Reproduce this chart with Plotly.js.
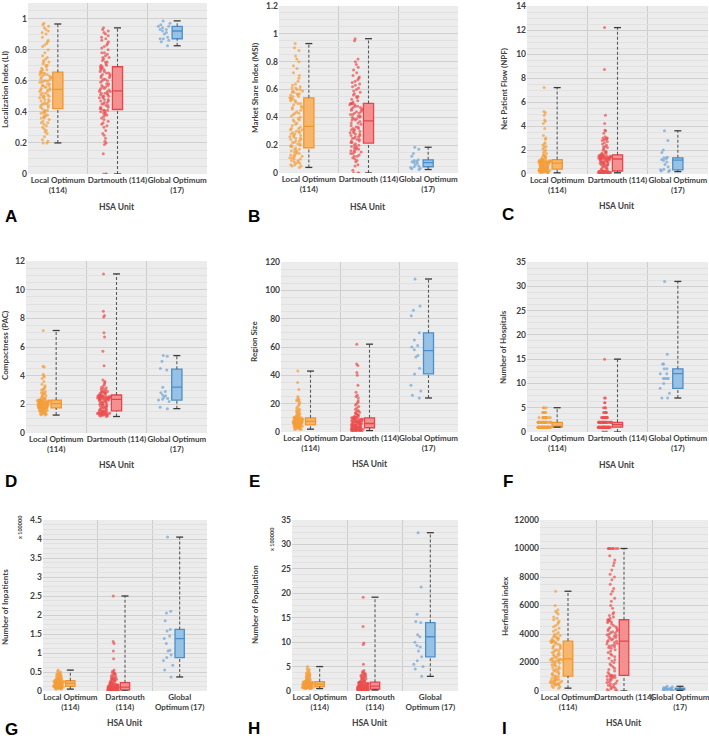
<!DOCTYPE html>
<html>
<head>
<meta charset="utf-8">
<script src="https://cdn.plot.ly/plotly-3.0.1.min.js"></script>
<style>html,body{margin:0;padding:0;background:#fff}#chart{width:709px;height:739px}</style>
</head>
<body>
<div id="chart"></div>
<script>
// ---------- categories / tick labels ----------
const groupNames = ['Local Optimum', 'Dartmouth', 'Global Optimum'];
const ticksTwoLine = ['Local Optimum<br>(114)', 'Dartmouth (114)', 'Global Optimum<br>(17)'];
const ticksThreeLine = ['Local Optimum<br>(114)', 'Dartmouth<br>(114)', 'Global<br>Optimum (17)'];
const ticksI = ['Local Optimum<br>(114)', 'Dartmouth (114)', 'Global Optimum<br>(17)'];

// ---------- A: Localization Index ----------
const liLocal = [0.2,0.21,0.2,0.22,0.24,0.26,0.27,0.28,0.29,0.3,0.31,0.32,0.33,0.33,0.34,0.35,0.36,0.36,0.37,0.37,0.38,0.38,0.39,0.39,0.4,0.4,0.41,0.41,0.42,
0.43,0.43,0.44,0.44,0.45,0.45,0.45,0.46,0.46,0.47,0.47,0.48,0.48,0.49,0.49,0.5,0.5,0.5,0.51,0.51,0.52,0.52,0.53,0.53,0.54,0.54,0.54,0.55,
0.55,0.56,0.56,0.57,0.57,0.57,0.58,0.58,0.59,0.59,0.6,0.6,0.6,0.61,0.61,0.62,0.62,0.62,0.63,0.63,0.64,0.64,0.64,0.65,0.65,0.65,0.66,0.66,
0.67,0.67,0.68,0.69,0.7,0.7,0.71,0.72,0.72,0.73,0.74,0.75,0.76,0.78,0.8,0.82,0.83,0.84,0.85,0.86,0.88,0.9,0.91,0.92,0.93,0.94,0.95,0.96,0.97];
const liDart = [0,0,0,0.13,0.19,0.2,0.21,0.23,0.25,0.26,0.28,0.3,0.31,0.32,0.33,0.34,0.35,0.36,0.37,0.38,0.38,0.39,0.39,0.4,0.4,0.41,0.41,0.41,
0.42,0.42,0.43,0.43,0.44,0.44,0.45,0.45,0.46,0.46,0.47,0.47,0.48,0.48,0.49,0.49,0.5,0.5,0.5,0.51,0.51,0.52,0.52,0.52,0.53,0.53,0.53,0.54,0.54,
0.55,0.55,0.56,0.56,0.57,0.57,0.58,0.58,0.59,0.6,0.6,0.61,0.61,0.62,0.62,0.63,0.63,0.64,0.64,0.65,0.65,0.66,0.66,0.67,0.67,0.68,0.68,0.69,
0.69,0.7,0.7,0.71,0.72,0.72,0.73,0.74,0.75,0.75,0.76,0.77,0.78,0.78,0.8,0.81,0.82,0.83,0.84,0.85,0.86,0.87,0.88,0.89,0.9,0.91,0.92,0.93,0.94];
const liGlobal = [0.825,0.85,0.86,0.87,0.87,0.88,0.9,0.91,0.92,0.93,0.93,0.94,0.95,0.95,0.96,0.97,0.985];
const liMin = [0.2, 0, 0.825];
const liQ1 = [0.42, 0.415, 0.87];
const liMed = [0.545, 0.535, 0.92];
const liQ3 = [0.655, 0.69, 0.95];
const liMax = [0.965, 0.94, 0.985];

// ---------- B: Market Share Index ----------
const msiLocal = [.04,.05,.05,.06,.06,.07,.07,.08,.08,.09,.09,.1,.1,.11,.11,.12,.12,.13,.13,.14,.14,.15,.15,.16,.16,.17,.17,.18,
.19,.19,.2,.2,.21,.21,.22,.22,.23,.23,.24,.24,.25,.25,.26,.26,.27,.27,.28,.28,.29,.29,.3,.3,.31,.31,.32,.32,.33,
.34,.35,.36,.37,.38,.38,.39,.4,.41,.42,.43,.43,.44,.45,.46,.47,.47,.48,.49,.5,.5,.51,.52,.52,.53,.53,.54,.54,
.55,.55,.56,.56,.57,.57,.58,.58,.59,.59,.6,.6,.61,.61,.62,.63,.64,.66,.68,.7,.72,.75,.77,.8,.82,.84,.88,.9,.93];
const msiDart = [0,0,0,.02,.05,.06,.08,.09,.1,.11,.12,.12,.13,.14,.14,.15,.15,.16,.16,.17,.17,.18,.18,.19,.19,.2,.2,.21,
.22,.22,.23,.23,.24,.24,.25,.25,.26,.26,.27,.27,.28,.28,.29,.29,.3,.3,.31,.31,.32,.32,.33,.33,.34,.35,.36,.36,.37,
.38,.38,.39,.39,.4,.4,.41,.41,.42,.42,.43,.43,.44,.44,.45,.45,.46,.46,.47,.47,.48,.48,.49,.49,.5,.5,.5,.5,
.51,.52,.53,.54,.55,.55,.56,.57,.58,.59,.6,.61,.62,.63,.64,.65,.66,.67,.68,.69,.7,.72,.74,.76,.78,.8,.82,.95,.965];
const msiGlobal = [.025,.03,.035,.04,.045,.05,.06,.07,.075,.08,.085,.09,.095,.12,.14,.17,.185];
const msiMin = [0.04, 0, 0.025];
const msiQ1 = [0.18, 0.215, 0.045];
const msiMed = [0.335, 0.375, 0.075];
const msiQ3 = [0.54, 0.5, 0.095];
const msiMax = [0.93, 0.965, 0.185];

// ---------- C: Net Patient Flow ----------
const npfLocal = [.1,.1,.12,.14,.15,.16,.18,.2,.2,.22,.24,.25,.26,.28,.29,.3,.3,.31,.32,.33,.34,.35,.35,.36,.37,.38,.39,.4,
.42,.44,.45,.47,.48,.5,.52,.53,.55,.56,.58,.6,.62,.63,.65,.67,.68,.7,.72,.74,.75,.77,.78,.8,.82,.84,.86,.88,.9,
.91,.92,.93,.94,.95,.96,.97,.98,.99,1,1.01,1.02,1.03,1.04,1.05,1.06,1.07,1.08,1.09,1.1,1.11,1.12,1.13,1.14,1.15,1.16,1.18,1.2,
1.25,1.3,1.35,1.4,1.45,1.5,1.55,1.6,1.7,1.8,1.9,2,2.1,2.2,2.3,2.4,2.5,2.6,2.9,3,3.2,3.8,4.2,4.4,4.5,4.9,5.1,5.2,7.2];
const npfDart = [.05,.06,.07,.08,.09,.1,.1,.11,.12,.12,.13,.14,.14,.15,.16,.16,.17,.18,.18,.19,.2,.2,.21,.22,.22,.23,.24,.25,
.3,.35,.4,.45,.5,.55,.6,.65,.7,.72,.75,.8,.82,.85,.88,.9,.92,.95,.98,1,1.02,1.05,1.08,1.1,1.13,1.16,1.19,1.22,1.25,
1.26,1.27,1.28,1.29,1.3,1.31,1.32,1.33,1.34,1.35,1.36,1.37,1.38,1.4,1.41,1.42,1.43,1.45,1.46,1.47,1.49,1.5,1.52,1.53,1.55,1.56,1.58,1.6,
1.65,1.7,1.75,1.8,1.85,1.9,2,2.1,2.2,2.25,2.3,2.4,2.5,2.6,2.7,2.8,2.85,2.9,2.95,3,3,3.1,3.4,3.6,3.65,4.2,4.9,8.7,12.2];
const npfGlobal = [.2,.25,.3,.35,.4,.6,.8,1,1.15,1.2,1.3,1.35,1.4,1.8,2,2.8,3.6];
const npfMin = [0.1, 0.1, 0.2];
const npfQ1 = [0.4, 0.25, 0.35];
const npfMed = [0.9, 1.25, 1.15];
const npfQ3 = [1.2, 1.6, 1.35];
const npfMax = [7.2, 12.2, 3.6];

// ---------- D: Compactness ----------
const pacLocal = [1.25,1.28,1.3,1.32,1.35,1.38,1.4,1.42,1.44,1.46,1.48,1.5,1.52,1.54,1.56,1.58,1.6,1.62,1.63,1.65,1.66,1.68,1.69,1.7,1.71,1.72,1.73,1.75,
1.76,1.77,1.78,1.79,1.8,1.81,1.82,1.83,1.84,1.85,1.86,1.87,1.88,1.89,1.9,1.91,1.92,1.93,1.94,1.95,1.96,1.97,1.98,1.99,2,2.01,2.02,2.03,2.05,
2.06,2.07,2.08,2.09,2.1,2.11,2.12,2.13,2.14,2.15,2.16,2.17,2.18,2.19,2.2,2.21,2.22,2.23,2.24,2.25,2.25,2.26,2.27,2.27,2.28,2.28,2.29,2.3,
2.32,2.35,2.38,2.4,2.42,2.45,2.5,2.55,2.6,2.65,2.7,2.75,2.8,2.85,2.9,3,3.05,3.1,3.2,3.3,3.4,3.6,3.8,3.9,4,4.1,4.6,4.65,7.15];
const pacDart = [1.15,1.18,1.2,1.22,1.24,1.26,1.28,1.3,1.31,1.32,1.33,1.34,1.35,1.36,1.37,1.38,1.39,1.4,1.42,1.43,1.44,1.46,1.47,1.48,1.5,1.52,1.53,1.55,
1.58,1.6,1.63,1.66,1.69,1.72,1.75,1.78,1.8,1.83,1.86,1.89,1.92,1.95,1.98,2,2.03,2.06,2.09,2.12,2.15,2.18,2.2,2.23,2.25,2.28,2.3,2.32,2.35,
2.36,2.37,2.38,2.39,2.4,2.41,2.42,2.43,2.44,2.45,2.46,2.47,2.48,2.49,2.5,2.51,2.52,2.53,2.54,2.55,2.56,2.57,2.58,2.59,2.6,2.62,2.63,2.65,
2.7,2.72,2.75,2.78,2.8,2.82,2.85,2.88,2.9,2.92,2.95,3,3.05,3.1,3.15,3.2,3.3,3.4,3.5,3.6,3.7,4.7,5.7,6.7,7,8.1,8.2,8.5,11.1];
const pacGlobal = [1.7,1.8,2.2,2.3,2.35,2.4,2.5,2.6,2.65,2.8,2.9,3.2,4.4,4.5,5,5.35,5.4];
const pacMin = [1.25, 1.15, 1.7];
const pacQ1 = [1.75, 1.55, 2.3];
const pacMed = [2.05, 2.35, 3.2];
const pacQ3 = [2.3, 2.65, 4.45];
const pacMax = [7.15, 11.1, 5.4];

// ---------- E: Region Size ----------
const sizeLocal = [2,2,2,2,3,3,3,3,3,3,4,4,4,4,4,4,4,4,5,5,5,5,5,5,5,5,5,5,
6,6,6,6,6,6,6,6,6,6,6,6,6,6,7,7,7,7,7,7,7,7,7,7,7,7,7,7,7,
8,8,8,8,8,8,8,8,8,8,9,9,9,9,9,9,9,9,9,10,10,10,10,10,10,10,10,10,
11,11,11,11,12,12,12,13,13,14,14,15,15,16,16,17,18,19,20,21,22,22,23,23,24,25,30,35,43];
const sizeDart = [1,1,1,1,1,1,1,1,1,1,2,2,2,2,2,2,2,2,2,2,2,2,3,3,3,3,3,3,
3,3,3,3,3,3,4,4,4,4,4,4,4,4,5,5,5,5,5,5,5,5,6,6,6,6,6,6,6,
7,7,7,7,7,7,7,8,8,8,8,8,8,8,9,9,9,9,9,9,9,10,10,10,10,10,10,10,
11,11,11,12,12,12,13,13,14,14,15,15,16,17,18,19,20,21,22,24,25,26,28,33,40,42,47,48,62];
const sizeGlobal = [24,26,29,33,41,45,53,54,58,60,61,65,70,82,86,89,108];
const sizeMin = [2, 1, 24];
const sizeQ1 = [5, 3, 41];
const sizeMed = [7.5, 6, 57.5];
const sizeQ3 = [10, 10, 70];
const sizeMax = [43, 62, 108];

// ---------- F: Number of Hospitals ----------
const hospLocal = [1,1,1,1,1,1,1,1,1,1,1,1,1,1,1,1,1,1,1,1,1,1,1,1,1,1,1,1,1,1,
1,1,1,1,1,1,1,1,1,1,1,1,1,1,1,1,1,1,1,1,1,1,1,1,1,1,1,1,1,1,
2,2,2,2,2,2,2,2,2,2,2,2,2,2,2,2,2,2,2,2,2,2,2,2,2,2,2,2,2,2,
3,3,3,3,3,3,3,3,3,3,3,3,3,3,3,4,4,4,4,4,4,5,5,5];
const hospDart = [0,0,0,0,1,1,1,1,1,1,1,1,1,1,1,1,1,1,1,1,1,1,1,1,1,1,1,1,1,1,
1,1,1,1,1,1,1,1,1,1,1,1,1,1,1,1,1,1,1,1,1,1,1,1,1,1,1,
2,2,2,2,2,2,2,2,2,2,2,2,2,2,2,2,2,2,2,2,2,2,2,2,2,2,2,2,2,2,2,2,
3,3,3,3,3,3,3,3,3,3,3,3,4,4,4,4,4,5,5,5,6,6,7,7,15];
const hospGlobal = [7,7,8,9,10,11,11,11,11,12,12,13,13,14,14,16,31];
const hospMin = [1, 0, 7];
const hospQ1 = [1, 1, 9];
const hospMed = [1, 1.5, 12];
const hospQ3 = [2, 2, 13];
const hospMax = [5, 15, 31];

// ---------- G: Number of Inpatients (x 100000) ----------
const inpLocal = [.05,.05,.06,.06,.07,.07,.07,.08,.08,.08,.09,.09,.09,.1,.1,.1,.1,.11,.11,.11,.11,.11,.12,.12,.12,.12,.12,.12,
.13,.13,.13,.13,.13,.13,.13,.14,.14,.14,.14,.15,.15,.15,.15,.16,.16,.16,.16,.17,.17,.17,.18,.18,.18,.19,.19,.2,.2,
.21,.21,.21,.21,.22,.22,.22,.22,.23,.23,.23,.23,.24,.24,.24,.24,.25,.25,.25,.25,.26,.26,.26,.26,.27,.27,.27,.27,
.28,.28,.29,.29,.3,.3,.31,.31,.32,.32,.33,.33,.34,.35,.36,.37,.38,.39,.4,.41,.42,.43,.44,.45,.46,.48,.5,.52,.55];
const inpDart = [0,0,0,0,0,0,.01,.01,.01,.01,.01,.01,.01,.01,.01,.01,.02,.02,.02,.02,.02,.02,.02,.02,.03,.03,.03,.03,
.04,.04,.04,.04,.05,.05,.05,.05,.06,.06,.06,.06,.07,.07,.07,.07,.08,.08,.08,.08,.09,.09,.09,.09,.1,.1,.1,.1,.1,
.11,.11,.11,.12,.12,.12,.13,.13,.13,.14,.14,.14,.15,.15,.15,.16,.16,.16,.18,.18,.18,.2,.2,.2,.22,.22,.22,.22,
.24,.25,.26,.27,.28,.29,.3,.3,.31,.32,.33,.34,.35,.36,.38,.4,.42,.44,.45,.46,.48,.5,.52,.55,.85,1.05,1.25,1.3,2.5];
const inpGlobal = [.37,.55,.68,.8,.88,.95,1.05,1.07,1.25,1.38,1.45,1.58,1.62,1.85,2.05,2.1,4.05];
const inpMin = [0.05, 0, 0.37];
const inpQ1 = [0.12, 0.03, 0.88];
const inpMed = [0.2, 0.1, 1.38];
const inpQ3 = [0.27, 0.22, 1.62];
const inpMax = [0.55, 2.5, 4.05];

// ---------- H: Number of Population (x 100000) ----------
const popLocal = [.5,.52,.55,.57,.6,.62,.64,.66,.68,.7,.71,.72,.73,.74,.75,.76,.77,.78,.79,.8,.81,.82,.83,.84,.85,.86,.88,.9,
.92,.94,.96,.98,1,1.02,1.04,1.06,1.08,1.1,1.12,1.14,1.16,1.18,1.2,1.22,1.24,1.26,1.28,1.3,1.31,1.32,1.33,1.34,1.35,1.36,1.37,1.38,1.4,
1.42,1.44,1.46,1.48,1.5,1.52,1.54,1.56,1.58,1.6,1.62,1.64,1.66,1.68,1.7,1.72,1.74,1.76,1.78,1.8,1.81,1.82,1.83,1.84,1.85,1.86,1.88,1.9,
1.95,2,2.05,2.1,2.15,2.2,2.25,2.3,2.35,2.4,2.5,2.6,2.7,2.8,2.9,3,3.1,3.2,3.3,3.4,3.5,3.6,3.7,3.8,4,4.2,4.4,4.6,5];
const popDart = [.2,.21,.22,.23,.24,.25,.26,.27,.28,.29,.3,.3,.31,.31,.32,.32,.33,.33,.34,.34,.35,.35,.36,.37,.38,.38,.39,.4,
.42,.44,.46,.48,.5,.52,.54,.56,.58,.6,.62,.64,.66,.68,.7,.72,.74,.76,.78,.8,.82,.84,.86,.88,.9,.92,.94,.97,1,
1.03,1.06,1.09,1.12,1.15,1.18,1.21,1.24,1.27,1.3,1.33,1.36,1.39,1.42,1.45,1.48,1.51,1.54,1.57,1.6,1.63,1.66,1.69,1.72,1.74,1.76,1.78,1.8,
1.85,1.9,2,2.05,2.1,2.2,2.3,2.4,2.5,2.6,2.7,2.8,2.9,3,3.1,3.2,3.3,3.4,3.5,3.6,3.7,3.8,4,4.2,5.5,9.5,9.8,13.2,19.2];
const popGlobal = [3,4.5,5,5.5,6.2,7,8.2,9,9.3,10,11.1,11.5,14,14.2,15.7,21.3,32.4];
const popMin = [0.5, 0.2, 3];
const popQ1 = [0.9, 0.4, 7];
const popMed = [1.4, 1.0, 11.1];
const popQ3 = [1.9, 1.8, 14];
const popMax = [5, 19.2, 32.4];

// ---------- I: Herfindahl index ----------
const hhiLocal = [200,250,300,350,400,420,450,480,500,520,550,580,600,620,650,680,700,720,750,780,800,830,860,900,940,980,1020,1050,
1100,1150,1200,1250,1300,1350,1400,1450,1500,1550,1600,1650,1700,1750,1800,1850,1900,1950,2000,2040,2080,2100,2120,2150,2180,2200,2220,2240,2250,
2300,2350,2400,2450,2500,2550,2600,2650,2700,2750,2800,2850,2900,2950,3000,3050,3100,3150,3200,3250,3300,3350,3400,3420,3440,3460,3480,3500,
3550,3600,3650,3700,3700,3750,3800,3850,3900,3950,4000,4100,4200,4300,4400,4500,4600,4700,4800,4900,5000,5100,5200,5400,5500,5600,5700,6000,7000];
const hhiDart = [0,0,50,100,150,200,250,300,350,400,450,500,550,600,650,700,750,800,850,900,950,1000,1020,1040,1060,1080,1090,1100,
1200,1300,1400,1500,1600,1700,1800,1900,2000,2100,2200,2300,2400,2500,2600,2700,2800,2900,3000,3050,3100,3150,3200,3250,3300,3350,3400,3450,3500,
3550,3600,3650,3700,3750,3800,3850,3900,3950,4000,4050,4100,4150,4200,4250,4300,4350,4400,4450,4500,4600,4700,4800,4850,4900,4950,5000,5000,
5100,5200,5300,5400,5500,5800,6000,6300,6500,6800,7000,7200,7500,7800,8000,8200,8500,8800,9000,9200,9500,10000,10000,10000,10000,10000,10000,10000,10000];
const hhiGlobal = [30,50,60,80,100,100,120,130,150,160,180,190,200,220,250,300,330];
const hhiMin = [200, 0, 30];
const hhiQ1 = [1050, 1100, 100];
const hhiMed = [2250, 3500, 150];
const hhiQ3 = [3500, 5000, 200];
const hhiMax = [7000, 10000, 330];

// ---------- styling ----------
const W = 709, H = 739;
const FONT = 'Lato, Liberation Sans, Arial, sans-serif';
const lineColors = ['#f0962f', '#e5454b', '#4a8fca'];
const fillColors = ['#f8b56c', '#f59090', '#98c2e5'];
const pointColors = ['rgba(245,158,58,0.7)', 'rgba(236,78,78,0.7)', 'rgba(118,170,215,0.75)'];

const panels = [
  {letter:'A', ytitle:'Localization Index (LI)', data:[liLocal,liDart,liGlobal], mn:liMin,q1:liQ1,med:liMed,q3:liQ3,mx:liMax, range:[0,1.1], dtick:0.2, minor:0.05, ticks:ticksTwoLine, px:[28,207,3,174], yt:[5,90], xt:[117,207], lt:[11,216]},
  {letter:'B', ytitle:'Market Share Index (MSI)', data:[msiLocal,msiDart,msiGlobal], mn:msiMin,q1:msiQ1,med:msiMed,q3:msiQ3,mx:msiMax, range:[0,1.2], dtick:0.2, minor:0.05, ticks:ticksTwoLine, px:[279,458,6,173], yt:[255,88], xt:[368,207], lt:[254,216]},
  {letter:'C', ytitle:'Net Patient Flow (NPF)', data:[npfLocal,npfDart,npfGlobal], mn:npfMin,q1:npfQ1,med:npfMed,q3:npfQ3,mx:npfMax, range:[0,14], dtick:2, minor:0.5, ticks:ticksTwoLine, px:[527,708,6,174], yt:[504,89], xt:[617,206], lt:[508,215]},
  {letter:'D', ytitle:'Compactness (PAC)', data:[pacLocal,pacDart,pacGlobal], mn:pacMin,q1:pacQ1,med:pacMed,q3:pacQ3,mx:pacMax, range:[0,12], dtick:2, minor:0.5, ticks:ticksTwoLine, px:[26,207,261,433], yt:[5,346], xt:[117,465], lt:[11,481]},
  {letter:'E', ytitle:'Region Size', data:[sizeLocal,sizeDart,sizeGlobal], mn:sizeMin,q1:sizeQ1,med:sizeMed,q3:sizeQ3,mx:sizeMax, range:[0,120], dtick:20, minor:5, ticks:ticksTwoLine, px:[281,458,262,432], yt:[254,342], xt:[370,464], lt:[254,481]},
  {letter:'F', ytitle:'Number of Hospitals', data:[hospLocal,hospDart,hospGlobal], mn:hospMin,q1:hospQ1,med:hospMed,q3:hospQ3,mx:hospMax, range:[0,35], dtick:5, minor:1.25, ticks:ticksTwoLine, px:[527,708,262,432], yt:[503,347], xt:[617,465], lt:[508,481]},
  {letter:'G', ytitle:'Number of Inpatients', data:[inpLocal,inpDart,inpGlobal], mn:inpMin,q1:inpQ1,med:inpMed,q3:inpQ3,mx:inpMax, range:[0,4.5], dtick:0.5, minor:0.125, ticks:ticksThreeLine, px:[43,207,520,691], yt:[5,607], xt:[125,723], lt:[11,729], mult:[20,527]},
  {letter:'H', ytitle:'Number of Population', data:[popLocal,popDart,popGlobal], mn:popMin,q1:popQ1,med:popMed,q3:popQ3,mx:popMax, range:[0,35], dtick:5, minor:1.25, ticks:ticksThreeLine, px:[292,458,520,691], yt:[255,605], xt:[370,723], lt:[254,728], mult:[272,539]},
  {letter:'I', ytitle:'Herfindahl index', data:[hhiLocal,hhiDart,hhiGlobal], mn:hhiMin,q1:hhiQ1,med:hhiMed,q3:hhiQ3,mx:hhiMax, range:[0,12000], dtick:2000, minor:500, ticks:ticksI, px:[540,708,520,691], yt:[505,606], xt:[624,723], lt:[504,728], fmt:'d'}
];

const traces = [];
const layout = {
  width: W, height: H, margin: {l:0, r:0, t:0, b:0},
  paper_bgcolor: '#ffffff', plot_bgcolor: '#ececec',
  showlegend: false, boxmode: 'overlay',
  font: {family: FONT, color: '#404040'},
  annotations: []
};

panels.forEach((p, k) => {
  const n = k === 0 ? '' : String(k + 1);
  const xa = 'x' + n, ya = 'y' + n;
  const [l, r, t, b] = p.px;
  layout['xaxis' + n] = {
    domain: [l / W, r / W], anchor: ya, range: [-0.5, 2.5],
    tickmode: 'array', tickvals: [0, 1, 2], ticktext: p.ticks, tickangle: 0,
    ticklabeloverflow: 'allow',
    showgrid: false, zeroline: false, showline: false, ticks: '',
    tickfont: {family: FONT, size: 8, weight: 'bold', color: '#404040'},
    minor: {tickmode: 'array', tickvals: [0.5, 1.5], showgrid: true, gridcolor: '#cdcdcd', gridwidth: 1, ticks: ''},
    fixedrange: true
  };
  layout['yaxis' + n] = {
    domain: [1 - b / H, 1 - t / H], anchor: xa, range: p.range,
    tick0: 0, dtick: p.dtick, tickformat: p.fmt || '',
    ticklabeloverflow: 'allow',
    showgrid: true, gridcolor: '#d0d0d0', gridwidth: 1,
    minor: {dtick: p.minor, showgrid: true, gridcolor: '#e1e1e1', gridwidth: 1, ticks: ''},
    zeroline: false, showline: false, ticks: '',
    tickfont: {family: FONT, size: 8.5, weight: 'bold', color: '#404040'},
    fixedrange: true
  };
  for (let g = 0; g < 3; g++) {
    traces.push({
      type: 'scatter', mode: 'lines', xaxis: xa, yaxis: ya,
      x: [g, g, null, g, g], y: [p.mn[g], p.q1[g], null, p.q3[g], p.mx[g]],
      line: {color: '#5a5a5a', width: 1.1, dash: '3px,2px'}, hoverinfo: 'skip'
    });
    traces.push({
      type: 'scatter', mode: 'markers', xaxis: xa, yaxis: ya,
      x: [g, g], y: [p.mn[g], p.mx[g]],
      marker: {symbol: 'line-ew', size: 5, line: {color: '#3a3a3a', width: 1.3}}, hoverinfo: 'skip'
    });
    traces.push({
      type: 'box', xaxis: xa, yaxis: ya, name: groupNames[g],
      x: [g], q1: [p.q1[g]], median: [p.med[g]], q3: [p.q3[g]],
      lowerfence: [p.q1[g]], upperfence: [p.q3[g]],
      width: 0.17, whiskerwidth: 0, boxpoints: false,
      fillcolor: fillColors[g], line: {color: lineColors[g], width: 1.3}
    });
    traces.push({
      type: 'box', xaxis: xa, yaxis: ya, name: groupNames[g],
      y: p.data[g], x0: g - 0.21, width: 0.22,
      boxpoints: 'all', jitter: 1, pointpos: 0,
      fillcolor: 'rgba(0,0,0,0)', line: {color: 'rgba(0,0,0,0)', width: 0},
      marker: {color: pointColors[g], size: 3, line: {width: 0}},
      hoveron: 'points'
    });
  }
  layout.annotations.push({
    xref: 'paper', yref: 'paper', x: p.yt[0] / W, y: 1 - p.yt[1] / H,
    xanchor: 'center', yanchor: 'middle', textangle: -90, showarrow: false,
    text: p.ytitle, font: {family: FONT, size: 8, weight: 'bold', color: '#404040'}
  });
  layout.annotations.push({
    xref: 'paper', yref: 'paper', x: p.xt[0] / W, y: 1 - p.xt[1] / H,
    xanchor: 'center', yanchor: 'middle', showarrow: false,
    text: 'HSA Unit', font: {family: FONT, size: 8.5, weight: 'bold', color: '#404040'}
  });
  layout.annotations.push({
    xref: 'paper', yref: 'paper', x: p.lt[0] / W, y: 1 - p.lt[1] / H,
    xanchor: 'center', yanchor: 'middle', showarrow: false,
    text: p.letter, font: {family: 'Liberation Sans, Arial, sans-serif', size: 17, weight: 'bold', color: '#000000'}
  });
  if (p.mult) {
    layout.annotations.push({
      xref: 'paper', yref: 'paper', x: p.mult[0] / W, y: 1 - p.mult[1] / H,
      xanchor: 'center', yanchor: 'middle', textangle: -90, showarrow: false,
      text: 'x 100000', font: {family: FONT, size: 5.5, weight: 'bold', color: '#404040'}
    });
  }
});

Plotly.newPlot('chart', traces, layout, {staticPlot: true, displayModeBar: false});
</script>
</body>
</html>
